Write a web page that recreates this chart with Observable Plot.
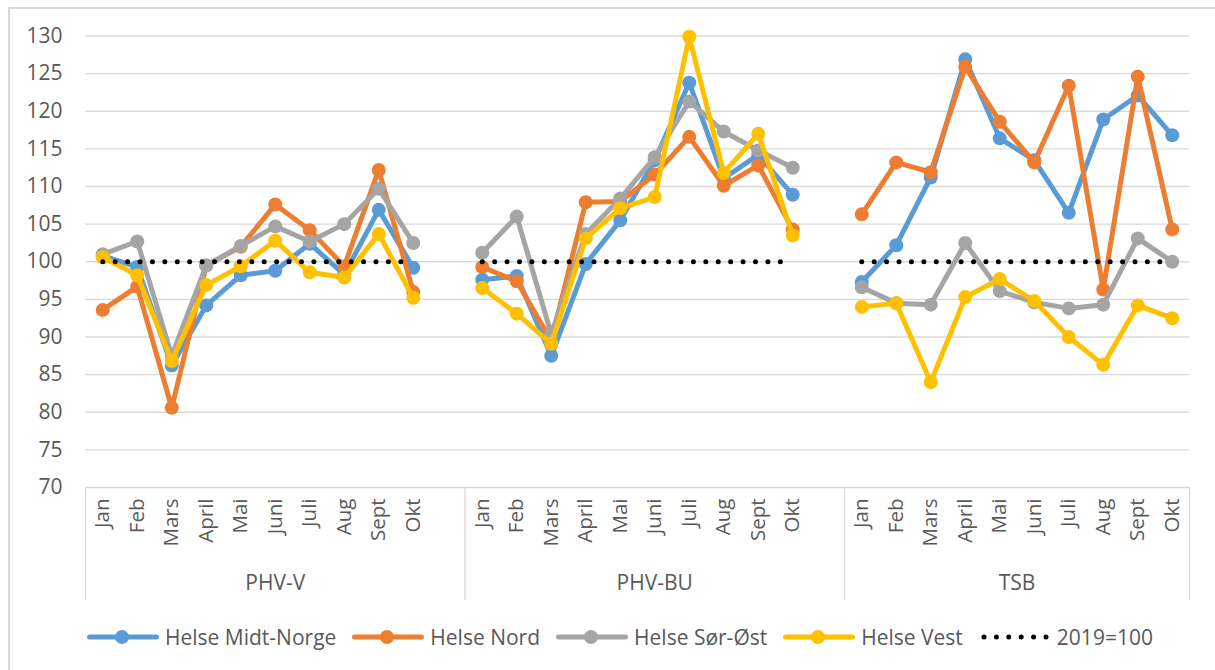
<!DOCTYPE html>
<html>
<head>
<meta charset="utf-8">
<script src="https://cdn.jsdelivr.net/npm/d3@7"></script>
<script src="https://cdn.jsdelivr.net/npm/@observablehq/plot@0.6"></script>
<style>
  html, body { margin: 0; padding: 0; background: #fff; }
  body { width: 1215px; height: 670px; position: relative; overflow: hidden; font-family: "Open Sans", sans-serif; }
  #frame { position: absolute; left: 8px; top: 7px; width: 1230px; height: 700px; border: 2px solid #d9d9d9; box-sizing: border-box; pointer-events: none; }
  #chart { position: absolute; left: 0; top: 0; }
  #legend { position: absolute; left: 87px; top: 624px; height: 26px; display: flex; align-items: center; font-size: 21px; color: #595959; white-space: nowrap; }
  .item { display: flex; align-items: center; margin-right: 16px; }
  .item svg { margin-right: 6px; }
</style>
</head>
<body>
<div id="chart"></div>
<div id="legend"></div>
<div id="frame"></div>
<script>
// ---- data ----
const groups = ["PHV-V", "PHV-BU", "TSB"];
const months = ["Jan", "Feb", "Mars", "April", "Mai", "Juni", "Juli", "Aug", "Sept", "Okt"];
const seriesNames = ["Helse Midt-Norge", "Helse Nord", "Helse Sør-Øst", "Helse Vest"];
const seriesColors = ["#5B9BD5", "#ED7D31", "#A5A5A5", "#FFC000"];
const yTicks = [70, 75, 80, 85, 90, 95, 100, 105, 110, 115, 120, 125, 130];
const baselineValue = 100;
const baselineName = "2019=100";

// values: PHV-V (Jan..Okt), PHV-BU (Jan..Okt), TSB (Jan..Okt)
const midtNorge = [
  100.8, 99.3, 86.2, 94.2, 98.2, 98.8, 102.4, 98.3, 106.9, 99.2,
  97.6, 98.1, 87.5, 99.7, 105.5, 113.5, 123.8, 111.1, 114.2, 108.9,
  97.3, 102.2, 111.2, 126.9, 116.4, 113.5, 106.5, 118.9, 122.1, 116.8
];
const nord = [
  93.6, 96.7, 80.6, 99.5, 102.0, 107.6, 104.2, 99.4, 112.2, 96.0,
  99.3, 97.4, 89.5, 107.9, 108.0, 111.6, 116.6, 110.1, 112.8, 104.3,
  106.3, 113.2, 111.9, 125.9, 118.6, 113.2, 123.4, 96.3, 124.6, 104.3
];
const sorOst = [
  101.0, 102.7, 87.5, 99.5, 102.1, 104.7, 102.7, 105.0, 109.7, 102.5,
  101.2, 106.0, 90.4, 103.7, 108.4, 113.9, 121.3, 117.3, 114.8, 112.5,
  96.6, 94.5, 94.3, 102.5, 96.1, 94.6, 93.8, 94.3, 103.1, 100.0
];
const vest = [
  100.6, 98.2, 86.8, 96.9, 99.4, 102.8, 98.6, 97.9, 103.7, 95.2,
  96.5, 93.1, 89.1, 103.1, 107.1, 108.6, 129.9, 111.8, 117.0, 103.5,
  94.0, 94.5, 84.0, 95.3, 97.7, 94.8, 90.0, 86.3, 94.2, 92.5
];
const seriesValues = [midtNorge, nord, sorOst, vest];

// ---- build category keys (a blank slot follows each group except the last) ----
const keys = [];
groups.forEach((g, gi) => {
  months.forEach(m => keys.push(g + "|" + m));
  if (gi < groups.length - 1) keys.push(g + "|");
});

const rows = [];
seriesNames.forEach((s, si) => {
  groups.forEach((g, gi) => {
    months.forEach((m, mi) => {
      rows.push({series: s, group: g, key: g + "|" + m, value: seriesValues[si][gi * months.length + mi]});
    });
  });
});
const baseRows = [];
groups.forEach(g => months.forEach(m => baseRows.push({group: g, key: g + "|" + m, value: baselineValue})));

// ---- layout ----
const W = 1215, H = 610;
const mL = 85, mR = 26, mT = 35.5, mB = 123;
const step = (W - mL - mR) / keys.length;
const axisColor = "#d9d9d9";
const textColor = "#595959";
const fs = 21;

const groupStarts = groups.map(g => g + "|Jan");
const lastKey = keys[keys.length - 1];
// groups 1 & 2 have 11 slots (center = Juni center); last group has 10 (center = Juni start)
const labelFull = groups.slice(0, -1).map(g => ({g, key: g + "|Juni"}));
const labelLast = groups.slice(-1).map(g => ({g, key: g + "|Juni"}));

const marks = [
  Plot.ruleY(yTicks, {y: d => d, stroke: axisColor, strokeWidth: 1.3}),
  Plot.ruleX(groupStarts, {x: d => d, dx: -step / 2, y1: 70, y2: 55, stroke: axisColor, strokeWidth: 1.3}),
  Plot.ruleX([lastKey], {x: d => d, dx: step / 2, y1: 70, y2: 55, stroke: axisColor, strokeWidth: 1.3}),
  Plot.axisY({ticks: yTicks, tickSize: 0, tickPadding: 23, fontSize: fs, fill: textColor, label: null, fontFamily: "Open Sans"}),
  Plot.axisX({tickSize: 0, tickRotate: -90, tickPadding: 11, fontSize: 20.5, fill: textColor, label: null,
    tickFormat: k => k.split("|")[1] || "", fontFamily: "Open Sans"}),
  Plot.text(labelFull, {x: "key", y: () => 70, dy: 96, text: "g", fontSize: fs, fill: textColor, fontFamily: "Open Sans"}),
  Plot.text(labelLast, {x: "key", y: () => 70, dy: 96, dx: -step / 2, text: "g", fontSize: fs, fill: textColor, fontFamily: "Open Sans"})
];

seriesNames.forEach((s, si) => {
  const data = rows.filter(r => r.series === s);
  marks.push(Plot.line(data, {x: "key", y: "value", z: "group", stroke: seriesColors[si], strokeWidth: 5, strokeLinejoin: "round", strokeLinecap: "round"}));
  marks.push(Plot.dot(data, {x: "key", y: "value", r: 7, fill: seriesColors[si], stroke: "none"}));
});
marks.push(Plot.line(baseRows, {x: "key", y: "value", z: "group", stroke: "#000", strokeWidth: 5, strokeDasharray: "0,12.42", strokeLinecap: "round"}));

const chart = Plot.plot({
  width: W, height: H,
  marginLeft: mL, marginRight: mR, marginTop: mT, marginBottom: mB,
  style: {background: "transparent", fontFamily: "Open Sans"},
  x: {type: "point", domain: keys, padding: 0, round: false, range: [mL + step / 2, W - mR - step / 2], axis: null},
  y: {domain: [70, 130], axis: null},
  marks
});
document.getElementById("chart").appendChild(chart);

// ---- legend ----
const legend = document.getElementById("legend");
seriesNames.forEach((s, si) => {
  const item = document.createElement("div");
  item.className = "item";
  item.innerHTML = `<svg width="72" height="16"><line x1="2.5" y1="8" x2="69.5" y2="8" stroke="${seriesColors[si]}" stroke-width="5" stroke-linecap="round"/><circle cx="35" cy="8" r="7" fill="${seriesColors[si]}"/></svg><span>${s}</span>`;
  legend.appendChild(item);
});
const bItem = document.createElement("div");
bItem.className = "item";
bItem.innerHTML = `<svg width="72" height="16"><line x1="5" y1="8" x2="68" y2="8" stroke="#000" stroke-width="5" stroke-dasharray="0,12.4" stroke-linecap="round"/></svg><span>${baselineName}</span>`;
legend.appendChild(bItem);
</script>
</body>
</html>
